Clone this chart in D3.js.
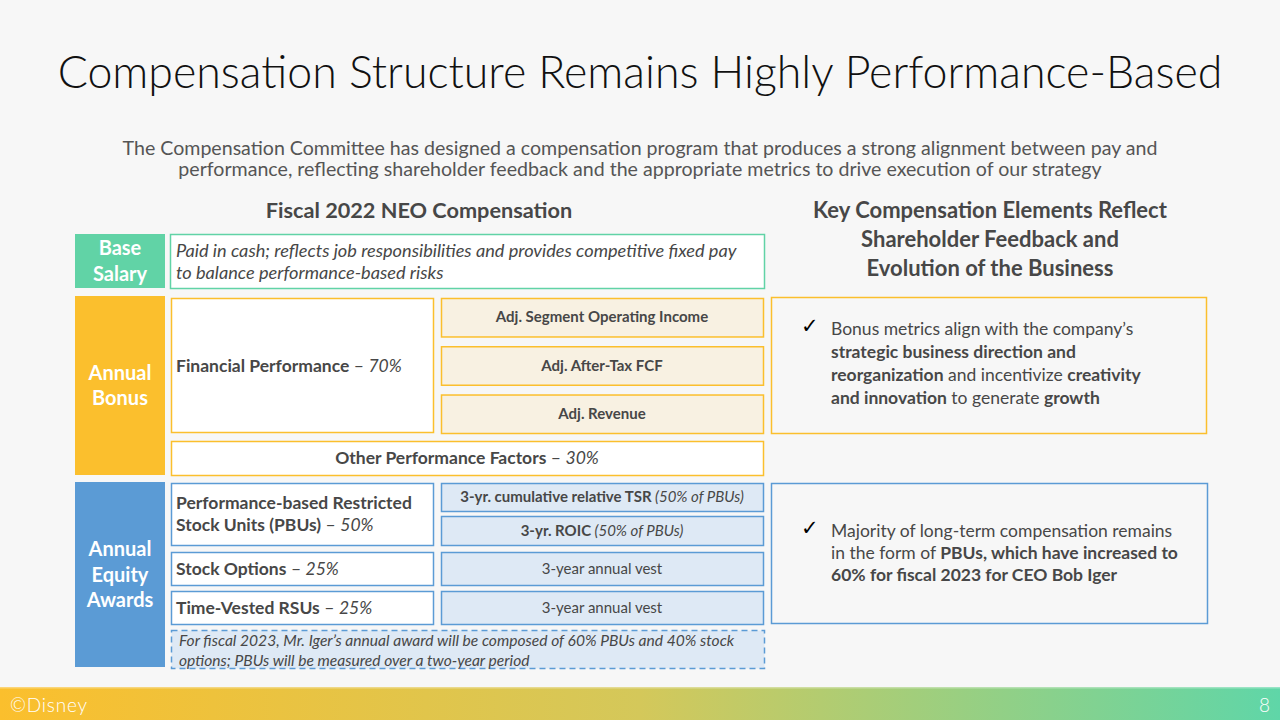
<html>
<head>
<title>Compensation Structure</title>
<script src="https://d3js.org/d3.v7.min.js"></script>
<style>
  body { margin:0; background:#f7f7f7; }
  svg { display:block; }
</style>
</head>
<body>
<svg id="slide" width="1280" height="720"></svg>
<script>
// ---- content ----
const title = "Compensation Structure Remains Highly Performance-Based";
const subtitle = [
  "The Compensation Committee has designed a compensation program that produces a strong alignment between pay and",
  "performance, reflecting shareholder feedback and the appropriate metrics to drive execution of our strategy"
];
const leftHeader = "Fiscal 2022 NEO Compensation";
const rightHeader = ["Key Compensation Elements Reflect", "Shareholder Feedback and", "Evolution of the Business"];

const categories = [["Base", "Salary"], ["Annual", "Bonus"], ["Annual", "Equity", "Awards"]];

const baseSalaryText = [
  [{t: "Paid in cash; reflects job responsibilities and provides competitive fixed pay", i: 1}],
  [{t: "to balance performance-based risks", i: 1}]
];
const financialPerf = [[{t: "Financial Performance", b: 1}, {t: " – ", i: 0}, {t: "70%", i: 1}]];
const bonusMetrics = ["Adj. Segment Operating Income", "Adj. After-Tax FCF", "Adj. Revenue"];
const otherPerf = [[{t: "Other Performance Factors", b: 1}, {t: " – ", i: 0}, {t: "30%", i: 1}]];

const equityVehicles = [
  [[{t: "Performance-based Restricted", b: 1}], [{t: "Stock Units (PBUs)", b: 1}, {t: " – "}, {t: "50%", i: 1}]],
  [[{t: "Stock Options", b: 1}, {t: " – "}, {t: "25%", i: 1}]],
  [[{t: "Time-Vested RSUs", b: 1}, {t: " – "}, {t: "25%", i: 1}]]
];
const pbuMetrics = [
  [[{t: "3-yr. cumulative relative TSR", b: 1}, {t: " (50% of PBUs)", i: 1}]],
  [[{t: "3-yr. ROIC", b: 1}, {t: " (50% of PBUs)", i: 1}]]
];
const vestTerms = ["3-year annual vest", "3-year annual vest"];
const note = [
  [{t: "For fiscal 2023, Mr. Iger’s annual award will be composed of 60% PBUs and 40% stock", i: 1}],
  [{t: "options; PBUs will be measured over a two-year period", i: 1}]
];
const highlights = [
  [
    [{t: "Bonus metrics align with the company’s"}],
    [{t: "strategic business direction and", b: 1}],
    [{t: "reorganization", b: 1}, {t: " and incentivize "}, {t: "creativity", b: 1}],
    [{t: "and innovation", b: 1}, {t: " to generate "}, {t: "growth", b: 1}]
  ],
  [
    [{t: "Majority of long-term compensation remains"}],
    [{t: "in the form of "}, {t: "PBUs, which have increased to", b: 1}],
    [{t: "60% for fiscal 2023 for CEO Bob Iger", b: 1}]
  ]
];
const footerLeft = "©Disney";
const pageNumber = "8";

// ---- style ----
const FONT = "Lato, 'Open Sans', sans-serif";
const C = {
  teal: "#61d3a6", orange: "#fbbf2d", blue: "#5b9bd5",
  beige: "#f8f1e2", lightBlue: "#dee9f5", text: "#474747", sub: "#555555"
};
const catColors = [C.teal, C.orange, C.blue];

const svg = d3.select("#slide");
svg.append("rect").attr("width", 1280).attr("height", 720).attr("fill", "#f7f7f7");

// rich text helper: lines of segments
function rich(g, lines, x, y, lh, opts) {
  opts = opts || {};
  lines.forEach((line, k) => {
    const t = g.append("text")
      .attr("x", x).attr("y", y + k * lh)
      .attr("text-anchor", opts.anchor || "start")
      .attr("font-family", FONT)
      .attr("font-size", opts.size || 17.5)
      .attr("fill", opts.color || C.text);
    line.forEach(s => {
      t.append("tspan")
        .attr("font-weight", s.b ? 700 : (opts.weight || 400))
        .attr("font-style", s.i ? "italic" : "normal")
        .text(s.t);
    });
  });
}

// ---- header ----
svg.append("text")
  .attr("x", 640).attr("y", 88)
  .attr("text-anchor", "middle")
  .attr("font-family", FONT)
  .attr("font-weight", 300)
  .attr("font-size", 44.7)
  .attr("fill", "#111")
  .text(title);

svg.selectAll(".sub").data(subtitle).join("text")
  .attr("x", 640).attr("y", (d, i) => 155 + i * 21)
  .attr("text-anchor", "middle")
  .attr("font-family", FONT).attr("font-size", 19.6)
  .attr("fill", C.sub)
  .text(d => d);

svg.append("text")
  .attr("x", 419).attr("y", 218)
  .attr("text-anchor", "middle")
  .attr("font-family", FONT).attr("font-weight", 700).attr("font-size", 21.7)
  .attr("fill", C.text)
  .text(leftHeader);

svg.selectAll(".rh").data(rightHeader).join("text")
  .attr("x", 990).attr("y", (d, i) => 218 + i * 29)
  .attr("text-anchor", "middle")
  .attr("font-family", FONT).attr("font-weight", 700).attr("font-size", 22)
  .attr("fill", C.text)
  .text(d => d);

// ---- layout ----
const colX = {cat: [75, 165], left: [171, 433], right: [441, 763], full: [171, 763]};
const catY = [[234, 288], [296, 475], [482, 667]];

// category bars
const cat = svg.selectAll(".cat").data(categories).join("g");
cat.append("rect")
  .attr("x", colX.cat[0]).attr("y", (d, i) => catY[i][0])
  .attr("width", colX.cat[1] - colX.cat[0])
  .attr("height", (d, i) => catY[i][1] - catY[i][0])
  .attr("fill", (d, i) => catColors[i]);
cat.each(function(d, i) {
  const mid = (catY[i][0] + catY[i][1]) / 2;
  const lh = 25.5;
  d3.select(this).selectAll("text").data(d).join("text")
    .attr("x", (colX.cat[0] + colX.cat[1]) / 2)
    .attr("y", (s, k) => mid + (k - (d.length - 1) / 2) * lh + 7)
    .attr("text-anchor", "middle")
    .attr("font-family", FONT).attr("font-weight", 700).attr("font-size", 20)
    .attr("fill", "#fff")
    .text(s => s);
});

function box(x0, y0, x1, y1, stroke, fill, dash) {
  return svg.append("rect")
    .attr("x", x0 + 0.5).attr("y", y0 + 0.5)
    .attr("width", x1 - x0).attr("height", y1 - y0)
    .attr("fill", fill).attr("stroke", stroke).attr("stroke-width", 1.5)
    .attr("stroke-dasharray", dash || null);
}

// base salary
box(170, 234, 764, 288, C.teal, "#fff");
rich(svg, baseSalaryText, 176, 257, 22, {size: 18.2});

// annual bonus
box(171, 298, 433, 432, C.orange, "#fff");
rich(svg, financialPerf, 176, 372, 22);
const bY = d3.scaleBand().domain(bonusMetrics).range([298, 437]).paddingInner(0.12).paddingOuter(0);
bonusMetrics.forEach(m => {
  box(colX.right[0], bY(m), colX.right[1], bY(m) + bY.bandwidth() - 4, C.orange, C.beige);
  rich(svg, [[{t: m, b: 1}]], (colX.right[0] + colX.right[1]) / 2, bY(m) + bY.bandwidth() / 2 + 3, 0, {anchor: "middle", size: 15});
});
box(171, 441, 763, 475, C.orange, "#fff");
rich(svg, otherPerf, 467, 464, 0, {anchor: "middle"});

// annual equity
const leftRows = [[483, 545], [552, 585], [591, 624]];
equityVehicles.forEach((lines, i) => {
  const [y0, y1] = leftRows[i];
  box(colX.left[0], y0, colX.left[1], y1, C.blue, "#fff");
  const mid = (y0 + y1) / 2;
  rich(svg, lines, 176, mid + 6 - (lines.length - 1) * 11, 22);
});
const pY = [[483, 511], [516, 545]];
pbuMetrics.forEach((lines, i) => {
  box(colX.right[0], pY[i][0], colX.right[1], pY[i][1], C.blue, C.lightBlue);
  rich(svg, lines, (colX.right[0] + colX.right[1]) / 2, (pY[i][0] + pY[i][1]) / 2 + 5, 0, {anchor: "middle", size: 15});
});
vestTerms.forEach((t, i) => {
  const [y0, y1] = leftRows[i + 1];
  box(colX.right[0], y0, colX.right[1], y1, C.blue, C.lightBlue);
  rich(svg, [[{t: t}]], (colX.right[0] + colX.right[1]) / 2, (y0 + y1) / 2 + 5, 0, {anchor: "middle", size: 15});
});
box(171, 630, 764, 668, C.blue, C.lightBlue, "6,4");
rich(svg, note, 179, 646, 20, {size: 15.6});

// right highlight boxes
const hBoxes = [[771, 297, 1206, 433, C.orange, [335, 23]], [771, 483, 1207, 623, C.blue, [537, 22]]];
highlights.forEach((lines, i) => {
  const [x0, y0, x1, y1, col, ty] = hBoxes[i];
  box(x0, y0, x1, y1, col, "#f7f7f7");
  svg.append("text")
    .attr("x", 801).attr("y", ty[0] - 2)
    .attr("font-family", "'DejaVu Sans', sans-serif").attr("font-size", 21)
    .attr("fill", "#000").text("✓");
  rich(svg, lines, 831, ty[0], ty[1]);
});

// ---- footer ----
const grad = svg.append("defs").append("linearGradient").attr("id", "fg");
grad.append("stop").attr("offset", "0%").attr("stop-color", "#fbbf2d");
grad.append("stop").attr("offset", "50%").attr("stop-color", "#d4c85a");
grad.append("stop").attr("offset", "100%").attr("stop-color", "#5fd6a8");
svg.append("rect").attr("x", 0).attr("y", 687).attr("width", 1280).attr("height", 33).attr("fill", "url(#fg)");
svg.append("rect").attr("x", 0).attr("y", 687).attr("width", 1280).attr("height", 1.5).attr("fill", "#fff").attr("opacity", 0.35);
svg.append("text").attr("x", 10).attr("y", 712)
  .attr("font-family", FONT).attr("font-weight", 300).attr("font-size", 19)
  .attr("letter-spacing", 0.8).attr("fill", "#fff").text(footerLeft);
svg.append("text").attr("x", 1270).attr("y", 712).attr("text-anchor", "end")
  .attr("font-family", FONT).attr("font-weight", 300).attr("font-size", 19).attr("fill", "#fff").text(pageNumber);
</script>
</body>
</html>
